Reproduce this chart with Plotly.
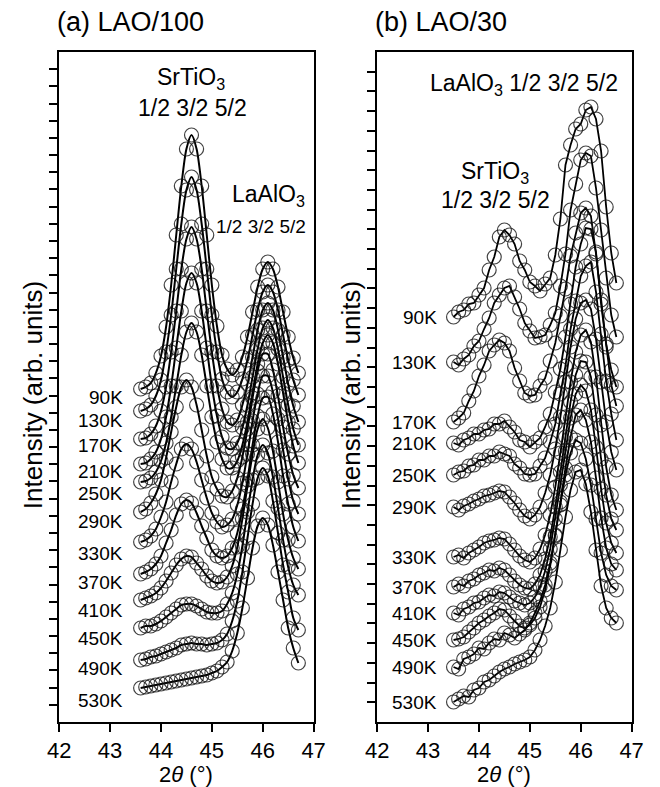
import plotly.graph_objects as go

# ---------------- data ----------------
temps = ["90K", "130K", "170K", "210K", "250K", "290K",
         "330K", "370K", "410K", "450K", "490K", "530K"]

# Panel (a) LAO/100 : 2theta grid and intensities (above each curve's start level)
x_a = [43.6, 43.7, 43.8, 43.9, 44.0, 44.1, 44.2, 44.3, 44.4, 44.5, 44.6, 44.7,
       44.8, 44.9, 45.0, 45.1, 45.2, 45.3, 45.4, 45.5, 45.6, 45.7, 45.8, 45.9,
       46.0, 46.1, 46.2, 46.3, 46.4, 46.5, 46.6, 46.7]
offsets_a = [332, 310, 282, 257, 239, 209, 179, 147, 122, 94, 62, 34]
a_90K = [1, 3, 7, 17, 34, 63, 105, 155, 204, 241, 255, 241, 204, 155, 105, 64, 35, 21, 15, 20, 33, 53, 78, 103, 121, 128, 121, 103, 78, 53, 32, 17]
a_130K = [1, 3, 7, 16, 32, 60, 97, 143, 188, 222, 235, 222, 188, 143, 97, 60, 33, 20, 15, 20, 33, 52, 77, 102, 120, 127, 120, 102, 77, 52, 32, 17]
a_170K = [1, 2, 6, 14, 29, 53, 88, 129, 171, 201, 213, 201, 171, 129, 88, 54, 31, 18, 15, 20, 35, 56, 83, 110, 130, 137, 130, 110, 83, 56, 34, 18]
a_210K = [1, 2, 6, 13, 26, 48, 79, 117, 154, 182, 192, 182, 154, 117, 79, 49, 28, 17, 16, 22, 37, 60, 88, 116, 137, 145, 137, 116, 88, 60, 36, 20]
a_250K = [1, 2, 5, 11, 22, 40, 66, 97, 128, 151, 160, 151, 128, 97, 66, 41, 24, 15, 15, 22, 38, 61, 90, 119, 140, 148, 140, 119, 90, 61, 37, 20]
a_290K = [1, 4, 10, 19, 33, 55, 81, 106, 126, 133, 126, 108, 83, 57, 36, 24, 17, 16, 22, 35, 56, 84, 115, 142, 159, 159, 143, 117, 86, 59, 38, 25]
a_330K = [1, 3, 7, 14, 26, 41, 61, 79, 94, 99, 94, 81, 63, 45, 30, 21, 16, 18, 24, 38, 60, 89, 122, 149, 167, 167, 151, 124, 93, 64, 42, 29]
a_370K = [1, 3, 6, 11, 19, 32, 45, 60, 71, 75, 72, 62, 49, 37, 25, 19, 17, 19, 27, 42, 66, 95, 130, 159, 177, 178, 161, 133, 99, 71, 48, 34]
a_410K = [0, 2, 4, 7, 12, 19, 27, 35, 41, 44, 43, 37, 31, 24, 19, 17, 18, 23, 34, 53, 81, 114, 146, 171, 181, 172, 149, 118, 86, 60, 42, 31]
a_450K = [0, 2, 2, 4, 7, 11, 15, 19, 23, 24, 24, 22, 19, 16, 15, 15, 17, 24, 35, 54, 82, 116, 148, 173, 183, 175, 151, 120, 88, 61, 43, 33]
a_490K = [0, 1, 3, 4, 6, 8, 10, 12, 15, 16, 17, 16, 16, 15, 16, 17, 20, 26, 39, 59, 88, 122, 156, 182, 192, 184, 159, 127, 95, 68, 42, 30]
a_530K = [0, 1, 2, 3, 4, 5, 6, 7, 8, 9, 10, 11, 12, 13, 15, 17, 21, 26, 37, 55, 80, 110, 140, 162, 170, 163, 143, 116, 88, 60, 40, 25]

# Panel (b) LAO/30
x_b = [43.5, 43.6, 43.7, 43.8, 43.9, 44.0, 44.1, 44.2, 44.3, 44.4, 44.5, 44.6,
       44.7, 44.8, 44.9, 45.0, 45.1, 45.2, 45.3, 45.4, 45.5, 45.6, 45.7, 45.8,
       45.9, 46.0, 46.1, 46.2, 46.3, 46.4, 46.5, 46.6, 46.7]
offsets_b = [405, 360, 300, 279, 247, 215, 165, 135, 109, 82, 55, 20]
b_90K = [0, 5, 7, 13, 14, 22, 29, 47, 60, 80, 87, 82, 73, 56, 47, 35, 31, 26, 33, 39, 62, 98, 152, 172, 188, 193, 207, 210, 198, 166, 110, 64, 34]
b_130K = [0, -3, 3, 7, 16, 21, 33, 44, 59, 67, 74, 76, 65, 53, 39, 31, 24, 25, 27, 37, 49, 76, 108, 152, 178, 202, 209, 206, 174, 132, 84, 47, 25]
b_170K = [0, 4, 9, 21, 31, 46, 57, 71, 77, 82, 79, 71, 54, 41, 29, 26, 27, 36, 44, 61, 79, 106, 133, 166, 189, 209, 214, 206, 168, 122, 78, 52, 35]
b_210K = [0, -2, 3, 5, 9, 9, 13, 14, 19, 19, 22, 16, 11, 3, 1, -4, 1, 5, 16, 29, 51, 74, 106, 139, 176, 199, 215, 214, 191, 139, 96, 58, 37]
b_250K = [0, 3, 4, 9, 10, 15, 15, 19, 19, 23, 21, 19, 11, 7, 1, 0, 1, 9, 17, 33, 51, 81, 109, 146, 174, 199, 209, 213, 183, 141, 94, 61, 35]
b_290K = [0, -3, 1, 3, 6, 8, 11, 12, 14, 16, 15, 10, 4, -3, -9, -12, -8, 0, 14, 32, 58, 90, 125, 160, 188, 204, 207, 198, 168, 125, 85, 55, 37]
b_330K = [0, 2, -1, 4, 7, 10, 14, 16, 17, 19, 18, 13, 7, 1, -3, -5, -1, 8, 22, 42, 70, 104, 140, 175, 205, 222, 227, 215, 180, 132, 90, 62, 47]
b_370K = [0, 3, 1, 6, 8, 12, 14, 17, 16, 19, 17, 12, 6, 2, -1, -2, 3, 12, 28, 50, 80, 115, 150, 185, 212, 226, 225, 210, 172, 128, 92, 68, 57]
b_410K = [0, -2, 4, 6, 10, 11, 15, 18, 17, 21, 20, 16, 12, 10, 8, 10, 16, 26, 42, 64, 94, 128, 162, 195, 219, 228, 222, 203, 166, 124, 90, 70, 60]
b_450K = [0, 1, 3, 8, 12, 17, 20, 24, 27, 31, 30, 24, 19, 14, 12, 15, 22, 33, 50, 74, 104, 138, 172, 203, 225, 230, 220, 198, 162, 122, 92, 76, 70]
b_490K = [0, -2, 8, 10, 13, 19, 18, 24, 28, 27, 34, 32, 29, 33, 37, 44, 54, 66, 82, 104, 132, 162, 192, 214, 227, 224, 208, 182, 148, 114, 92, 81, 77]
b_530K = [0, 3, 6, 5, 12, 14, 20, 22, 26, 30, 33, 35, 38, 40, 42, 45, 52, 62, 76, 94, 120, 152, 185, 212, 230, 232, 218, 190, 152, 116, 94, 84, 79]

x_ticks = [42, 43, 44, 45, 46, 47]

curves_a = [a_90K, a_130K, a_170K, a_210K, a_250K, a_290K,
            a_330K, a_370K, a_410K, a_450K, a_490K, a_530K]
curves_b = [b_90K, b_130K, b_170K, b_210K, b_250K, b_290K,
            b_330K, b_370K, b_410K, b_450K, b_490K, b_530K]

# label vertical nudges (pixels) relative to each curve's start, panel (a)
label_shift_a = [-7, -8, -5, -6, -10, -8, -10, -7, -10, -10, -8, -12]

# ---------------- figure ----------------
W, H = 660, 787
FONT = "Liberation Sans, Arial, Helvetica, sans-serif"
fig = go.Figure()

marker = dict(symbol="circle-open", size=14, color="rgba(20,20,20,0.8)",
              line=dict(width=1.2, color="rgba(20,20,20,0.8)"))

for ys, off in zip(curves_a, offsets_a):
    fig.add_trace(go.Scatter(x=x_a, y=[off + v for v in ys], xaxis="x", yaxis="y",
                             mode="lines+markers", marker=marker,
                             line=dict(color="black", width=2, shape="spline", smoothing=0.8),
                             hoverinfo="skip"))
for ys, off in zip(curves_b, offsets_b):
    fig.add_trace(go.Scatter(x=x_b, y=[off + v for v in ys], xaxis="x2", yaxis="y2",
                             mode="lines+markers", marker=marker,
                             line=dict(color="black", width=1.8),
                             hoverinfo="skip"))


def px_x(p):
    return p / W


def px_y(p):
    return 1 - p / H


xa_dom = [px_x(49), px_x(313)]
xb_dom = [px_x(379), px_x(643)]
y_dom = [px_y(722), px_y(52)]

common_x = dict(range=[42, 47], tickvals=x_ticks, ticks="outside", ticklen=8, tickwidth=2,
                tickcolor="black", showline=True, linewidth=2, linecolor="black", mirror=True,
                showgrid=False, zeroline=False, tickfont=dict(size=22, family=FONT, color="black"))
common_y = dict(range=[0, 670], ticks="outside", ticklen=8, tickwidth=1.5, tickcolor="black",
                showline=True, linewidth=2, linecolor="black", mirror=True,
                showgrid=False, zeroline=False, showticklabels=False)

fig.update_layout(
    width=W, height=H, margin=dict(l=0, r=0, t=0, b=0),
    paper_bgcolor="white", plot_bgcolor="white", showlegend=False,
    font=dict(family=FONT, color="black"),
    xaxis=dict(domain=xa_dom, anchor="y", **common_x),
    yaxis=dict(domain=y_dom, anchor="x", tickvals=[670 * k / 39 for k in range(1, 39)], **common_y),
    xaxis2=dict(domain=xb_dom, anchor="y2", **common_x),
    yaxis2=dict(domain=y_dom, anchor="x2", tickvals=[670 * k / 34 for k in range(1, 34)], **common_y),
)

ann = []


def paper_text(text, x, y, size, xanchor="center", angle=0):
    ann.append(dict(text=text, x=px_x(x), y=px_y(y), xref="paper", yref="paper",
                    xanchor=xanchor, yanchor="middle", showarrow=False, textangle=angle,
                    font=dict(size=size, family=FONT, color="black")))


paper_text("(a) LAO/100", 45, 22, 27, "left")
paper_text("(b) LAO/30", 375, 22, 27, "left")
paper_text("Intensity (arb. units)", 22, 395, 26, angle=-90)
paper_text("Intensity (arb. units)", 352, 395, 26, angle=-90)
paper_text("2<i>θ</i> (°)", 181, 774, 22)
paper_text("2<i>θ</i> (°)", 511, 774, 22)
paper_text("SrTiO<sub>3</sub>", 186, 79, 23)
paper_text("1/2 3/2 5/2", 187, 108, 23)
paper_text("LaAlO<sub>3</sub>", 266, 195, 23)
paper_text("1/2 3/2 5/2", 258, 226, 19)
paper_text("LaAlO<sub>3</sub> 1/2 3/2 5/2", 531, 85, 23)
paper_text("SrTiO<sub>3</sub>", 501, 172, 23)
paper_text("1/2 3/2 5/2", 502, 200, 23)

for t, off, sh in zip(temps, offsets_a, label_shift_a):
    ann.append(dict(text=t, x=43.29, y=off, xref="x", yref="y", xanchor="right",
                    yanchor="middle", yshift=sh, showarrow=False,
                    font=dict(size=19, family=FONT, color="black")))
for t, off in zip(temps, offsets_b):
    ann.append(dict(text=t, x=43.21, y=off, xref="x2", yref="y2", xanchor="right",
                    yanchor="middle", showarrow=False,
                    font=dict(size=19, family=FONT, color="black")))

fig.update_layout(annotations=ann)
fig.write_html("out.html")
